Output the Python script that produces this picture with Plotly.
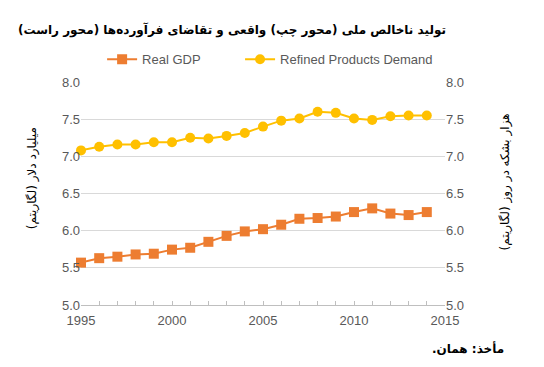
import plotly.graph_objects as go

years = list(range(1995, 2015))
real_gdp = [5.57, 5.63, 5.65, 5.68, 5.69, 5.745, 5.77, 5.85, 5.93, 5.99,
            6.02, 6.08, 6.16, 6.17, 6.19, 6.25, 6.30, 6.23, 6.21, 6.25]
refined_demand = [7.08, 7.13, 7.16, 7.16, 7.19, 7.19, 7.25, 7.24, 7.275, 7.315,
                  7.40, 7.48, 7.51, 7.60, 7.585, 7.51, 7.49, 7.54, 7.55, 7.55]
x_ticks = [1995, 2000, 2005, 2010, 2015]
y_ticks = [5.0, 5.5, 6.0, 6.5, 7.0, 7.5, 8.0]

RLM = "\u200f"
title_text = "<b>" + RLM + "تولید ناخالص ملی (محور چپ) واقعی و تقاضای فرآورده‌ها (محور راست)" + RLM + "</b>"
left_title = RLM + "میلیارد دلار (لگاریتم)" + RLM
right_title = RLM + "هزار بشکه در روز (لگاریتم)" + RLM
source_text = "<b>" + RLM + "مأخذ: همان." + RLM + "</b>"

fig = go.Figure()
fig.add_trace(go.Scatter(
    x=years, y=real_gdp, name="Real GDP", mode="lines+markers",
    line=dict(color="#ED7D31", width=2),
    marker=dict(symbol="square", size=10, color="#ED7D31"),
    cliponaxis=False, yaxis="y", legend="legend"))
fig.add_trace(go.Scatter(
    x=years, y=refined_demand, name="Refined Products Demand", mode="lines+markers",
    line=dict(color="#FFC000", width=2),
    marker=dict(symbol="circle", size=10, color="#FFC000"),
    cliponaxis=False, yaxis="y2", legend="legend2"))

tickfont = dict(family="Liberation Sans, Arial, sans-serif", size=13, color="#595959")
legfont = dict(family="Liberation Sans, Arial, sans-serif", size=13, color="#595959")

fig.update_layout(
    width=544, height=367,
    margin=dict(l=81, r=99, t=82, b=62),
    plot_bgcolor="white", paper_bgcolor="white",
    showlegend=True,
    legend=dict(orientation="h", x=0.058, xanchor="left", y=1.102, yanchor="middle",
                font=legfont, bgcolor="rgba(0,0,0,0)"),
    legend2=dict(orientation="h", x=0.437, xanchor="left", y=1.102, yanchor="middle",
                 font=legfont, bgcolor="rgba(0,0,0,0)"),
    xaxis=dict(range=[1995, 2015], tickvals=x_ticks, ticks="inside", ticklen=4,
               tickcolor="#BFBFBF", showline=True, linecolor="#BFBFBF", linewidth=1,
               showgrid=False, zeroline=False, tickfont=tickfont, ticklabelstandoff=3,
               minor=dict(dtick=1, tick0=1995, ticks="inside", ticklen=4,
                          tickcolor="#BFBFBF", showgrid=False)),
    yaxis=dict(range=[5, 8], tickvals=y_ticks, tickformat=".1f", showgrid=True,
               gridcolor="#D9D9D9", gridwidth=1, zeroline=False, showline=False,
               ticks="", tickfont=tickfont),
    yaxis2=dict(range=[5, 8], tickvals=y_ticks, tickformat=".1f", overlaying="y", side="right",
                showgrid=False, zeroline=False, showline=False, ticks="", tickfont=tickfont),
    annotations=[
        dict(text=title_text, xref="paper", yref="paper", x=0.416, y=1.233,
             xanchor="center", yanchor="middle", showarrow=False,
             font=dict(family="DejaVu Sans", size=12, color="black")),
        dict(text=left_title, xref="paper", yref="paper", x=-0.131, y=0.57,
             xanchor="center", yanchor="middle", textangle=-90, showarrow=False,
             font=dict(family="DejaVu Sans", size=12, color="black")),
        dict(text=right_title, xref="paper", yref="paper", x=1.165, y=0.55,
             xanchor="center", yanchor="middle", textangle=-90, showarrow=False,
             font=dict(family="DejaVu Sans", size=12, color="black")),
        dict(text=source_text, xref="paper", yref="paper", x=1.168, y=-0.197,
             xanchor="right", yanchor="middle", showarrow=False,
             font=dict(family="DejaVu Sans", size=12, color="black")),
    ],
)

fig.write_html("out.html", config={"displayModeBar": False},
               post_script="document.body.style.margin='0';")
